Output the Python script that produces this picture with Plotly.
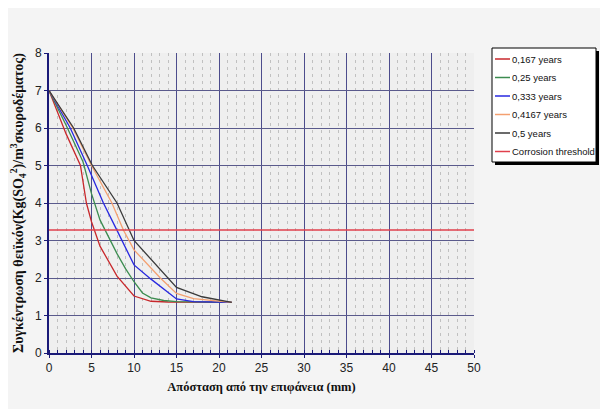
import plotly.graph_objects as go

# Data
series_names = ["0,167 years", "0,25 years", "0,333 years", "0,4167 years", "0,5 years"]
x_167 = [0, 2, 3.7, 4.4, 5, 6, 8, 10, 12, 14, 21.5]
y_167 = [7, 5.85, 5.0, 4.0, 3.5, 2.85, 2.05, 1.52, 1.38, 1.36, 1.35]
x_25 = [0, 2, 4, 5, 6, 7, 8, 9, 10, 11, 12, 13.5, 15, 21.5]
y_25 = [7, 6.08, 5.1, 4.25, 3.55, 3.1, 2.65, 2.25, 1.9, 1.6, 1.47, 1.4, 1.37, 1.35]
x_333 = [0, 2.5, 4.5, 6.4, 8, 10, 12, 15, 17, 21.5]
y_333 = [7, 6.0, 5.0, 4.0, 3.27, 2.35, 1.97, 1.44, 1.37, 1.35]
x_4167 = [0, 2.8, 5, 7.4, 8.75, 10, 13.1, 15, 17, 20, 21.5]
y_4167 = [7, 6.0, 5.0, 4.0, 3.28, 2.75, 2.0, 1.59, 1.45, 1.37, 1.35]
x_5 = [0, 2.9, 5.1, 8, 10, 14, 15, 18, 21, 21.5]
y_5 = [7, 6.0, 5.0, 4.0, 3.0, 2.0, 1.75, 1.5, 1.37, 1.35]
threshold_x = [0, 50]
threshold_y = [3.28, 3.28]
threshold_name = "Corrosion threshold"

colors = ["#c8282c", "#3c8c50", "#2828e0", "#f4a070", "#3a3a3a"]
threshold_color = "#e0404c"
xs = [x_167, x_25, x_333, x_4167, x_5]
ys = [y_167, y_25, y_333, y_4167, y_5]

fig = go.Figure()
for name, xv, yv, c in zip(series_names, xs, ys, colors):
    fig.add_trace(go.Scatter(x=xv, y=yv, mode="lines", name=name,
                             line=dict(color=c, width=1.3)))
fig.add_trace(go.Scatter(x=threshold_x, y=threshold_y, mode="lines", name=threshold_name,
                         line=dict(color=threshold_color, width=1.6)))

OFF = 8  # page body margin
W, H = 608 - OFF, 409 - OFF
L, T = 49 - OFF, 53 - OFF
pw, ph = 425, 300
R = W - L - pw
B = H - T - ph

def px2paper_x(p):
    return (p - OFF - L) / pw

def py2paper_y(p):
    return (T + ph - (p - OFF)) / ph

sans = "Liberation Sans, Arial, sans-serif"
tickfont = dict(family=sans, size=12, color="#222222")

# legend drawn as a boxed list (box with drop shadow, line samples, labels)
shapes = [
    dict(type="rect", xref="paper", yref="paper",
         x0=px2paper_x(495), x1=px2paper_x(599), y0=py2paper_y(165), y1=py2paper_y(51),
         fillcolor="#000000", line=dict(width=0), layer="above"),
    dict(type="rect", xref="paper", yref="paper",
         x0=px2paper_x(492), x1=px2paper_x(596), y0=py2paper_y(162), y1=py2paper_y(48),
         fillcolor="#ffffff", line=dict(color="#000000", width=1), layer="above"),
]
annotations = []
leg_names = series_names + [threshold_name]
leg_colors = colors + [threshold_color]
for i, (n, c) in enumerate(zip(leg_names, leg_colors)):
    yc = 59 + i * 18.5
    shapes.append(dict(type="line", xref="paper", yref="paper",
                       x0=px2paper_x(495), x1=px2paper_x(510),
                       y0=py2paper_y(yc), y1=py2paper_y(yc),
                       line=dict(color=c, width=1.5), layer="above"))
    annotations.append(dict(xref="paper", yref="paper", x=px2paper_x(510), y=py2paper_y(yc),
                            text=n, showarrow=False, xanchor="left", yanchor="middle",
                            font=dict(family=sans, size=9.5, color="#111111")))

fig.update_layout(
    width=W, height=H,
    margin=dict(l=L, r=R, t=T, b=B, autoexpand=False),
    paper_bgcolor="#f4f4f4",
    plot_bgcolor="#efefef",
    showlegend=False,
    shapes=shapes,
    annotations=annotations,
)

fig.update_xaxes(range=[0, 50], dtick=5, tick0=0,
                 showgrid=True, gridcolor="#4c4c8c", gridwidth=1.3,
                 showline=True, linecolor="#1a1a78", linewidth=2,
                 zeroline=False, ticks="outside", ticklen=3, tickcolor="#1a1a78",
                 tickfont=tickfont,
                 minor=dict(dtick=1, showgrid=True, gridcolor="#c0c0c0", griddash="3px,4px",
                            gridwidth=1, ticks="inside", ticklen=3, tickcolor="#1a1a78"),
                 title=dict(text="<b>Απόσταση από την επιφάνεια (mm)</b>",
                            font=dict(family="Liberation Serif, serif", size=12.5, color="#111111"),
                            standoff=8))
fig.update_yaxes(range=[0, 8], dtick=1, tick0=0,
                 showgrid=True, gridcolor="#5a5a8c", gridwidth=1.3,
                 showline=True, linecolor="#1a1a78", linewidth=2,
                 zeroline=False, ticks="outside", ticklen=3, tickcolor="#1a1a78",
                 tickfont=tickfont,
                 title=dict(text="<b>Συγκέντρωση θειϊκόν(Kg(SO<sub>4</sub><sup>2</sup>)/m<sup>3</sup>σκυροδέματος)</b>",
                            font=dict(family="Liberation Serif, serif", size=14, color="#111111"),
                            standoff=12))

fig.write_html("out.html")
